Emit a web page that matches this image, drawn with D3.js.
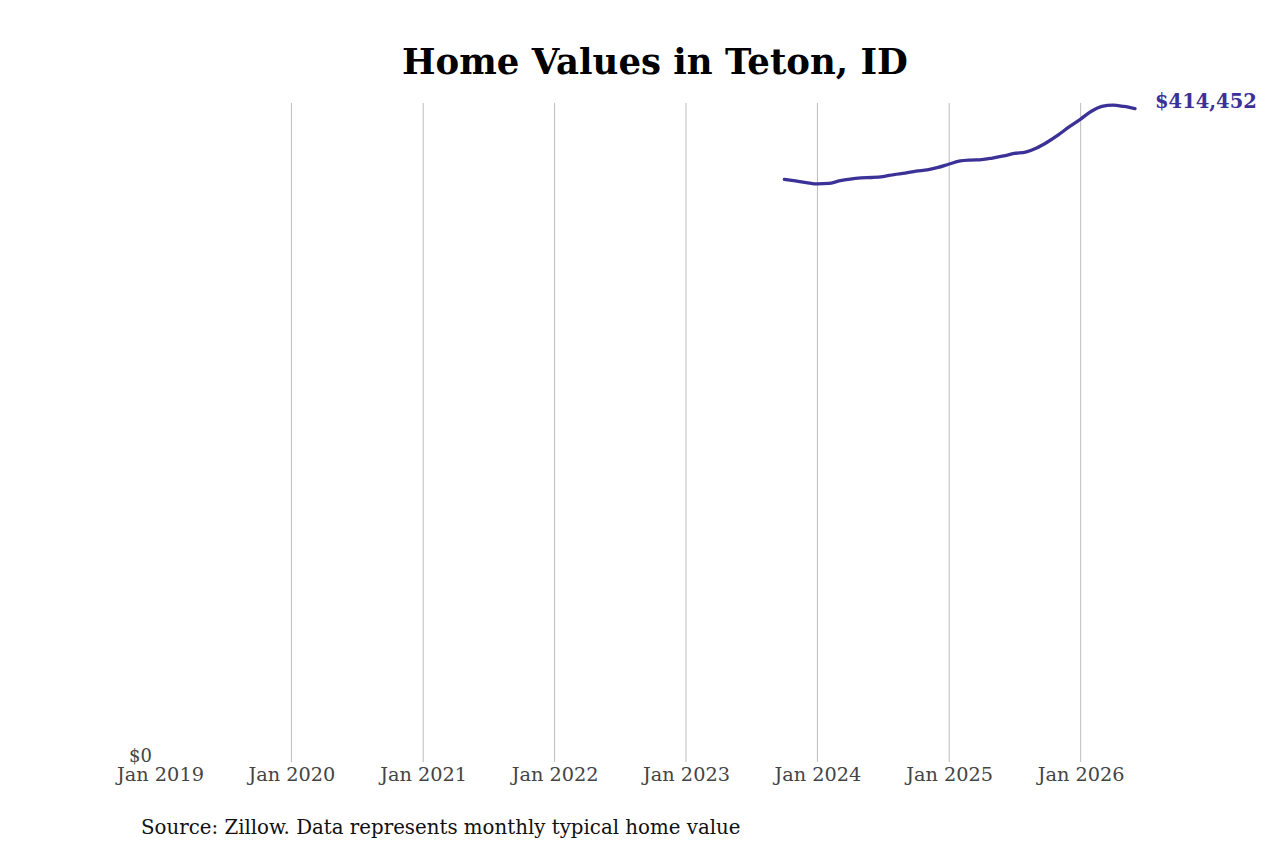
<!DOCTYPE html>
<html lang="en">
<head>
    <meta charset="UTF-8">
    <title>Home Values in Teton, ID</title>
    <script src="https://d3js.org/d3.v7.min.js"></script>
    <style>
        body { margin: 0; background: #fff; }
        text { font-family: "DejaVu Serif", serif; }
    </style>
</head>
<body>
<svg id="chart"></svg>
<script>
    // monthly typical home value, Oct 2023 - Jun 2026
    var months = [
        "2023-10", "2023-11", "2023-12",
        "2024-01", "2024-02", "2024-03", "2024-04", "2024-05", "2024-06",
        "2024-07", "2024-08", "2024-09", "2024-10", "2024-11", "2024-12",
        "2025-01", "2025-02", "2025-03", "2025-04", "2025-05", "2025-06",
        "2025-07", "2025-08", "2025-09", "2025-10", "2025-11", "2025-12",
        "2026-01", "2026-02", "2026-03", "2026-04", "2026-05", "2026-06"
    ];
    var values = [
        369400, 368400, 367400,
        366500, 366800, 368400, 369600, 370300, 370600,
        371200, 372500, 373400, 374700, 375400, 377000,
        379200, 381100, 381700, 382000, 383000, 384300,
        385900, 386800, 389400, 393200, 397900, 403000,
        407800, 412900, 415800, 416700, 415800, 414452
    ];
    var tickYears = [2019, 2020, 2021, 2022, 2023, 2024, 2025, 2026];
    var yTicks = [0];

    var width = 1280, height = 853;
    var parse = d3.timeParse("%Y-%m");

    var svg = d3.select("#chart")
        .attr("width", width)
        .attr("height", height);

    var x = d3.scaleTime()
        .domain([new Date(2019, 0, 1), new Date(2026, 5, 1)])
        .range([160, 1135]);

    var y = d3.scaleLinear()
        .domain([0, 418000])
        .range([760, 103]);

    // title
    svg.append("text")
        .attr("x", 655)
        .attr("y", 74)
        .attr("text-anchor", "middle")
        .attr("font-size", 35.5)
        .attr("font-weight", "bold")
        .attr("fill", "#000")
        .text("Home Values in Teton, ID");

    // vertical gridlines (none on the first tick)
    svg.append("g")
        .selectAll("line")
        .data(tickYears.slice(1))
        .enter()
        .append("line")
        .attr("x1", function(d) { return x(new Date(d, 0, 1)); })
        .attr("x2", function(d) { return x(new Date(d, 0, 1)); })
        .attr("y1", y.range()[1])
        .attr("y2", 762)
        .attr("stroke", "#bdbdbd")
        .attr("stroke-width", 1);

    // x axis labels
    var xAxis = d3.axisBottom(x)
        .tickValues(tickYears.map(function(d) { return new Date(d, 0, 1); }))
        .tickFormat(d3.timeFormat("Jan %Y"))
        .tickSize(0)
        .tickPadding(5);

    var gx = svg.append("g")
        .attr("transform", "translate(0,762)")
        .call(xAxis);
    gx.select(".domain").remove();
    gx.selectAll("text")
        .attr("font-family", "DejaVu Serif, serif")
        .attr("font-size", 19.3)
        .attr("fill", "#444");

    // y axis label ($0 only)
    var yAxis = d3.axisLeft(y)
        .tickValues(yTicks)
        .tickFormat(function(d) { return "$" + d3.format(",")(d); })
        .tickSize(0)
        .tickPadding(0);

    var gy = svg.append("g")
        .attr("transform", "translate(152,-4)")
        .call(yAxis);
    gy.select(".domain").remove();
    gy.selectAll("text")
        .attr("font-family", "DejaVu Serif, serif")
        .attr("font-size", 18)
        .attr("fill", "#444");

    // line
    var line = d3.line()
        .x(function(d, i) { return x(parse(months[i])); })
        .y(function(d) { return y(d); })
        .curve(d3.curveMonotoneX);

    svg.append("path")
        .datum(values)
        .attr("d", line)
        .attr("fill", "none")
        .attr("stroke", "#3b3196")
        .attr("stroke-width", 3.3)
        .attr("stroke-linejoin", "round")
        .attr("stroke-linecap", "round");

    // end label
    var last = values[values.length - 1];
    svg.append("text")
        .attr("x", x(parse(months[months.length - 1])) + 20)
        .attr("y", y(last) - 1)
        .attr("font-size", 19.5)
        .attr("font-weight", "bold")
        .attr("fill", "#3b3196")
        .text("$" + d3.format(",")(last));

    // source note
    svg.append("text")
        .attr("x", 141)
        .attr("y", 834)
        .attr("font-size", 19.8)
        .attr("fill", "#111")
        .text("Source: Zillow. Data represents monthly typical home value");
</script>
</body>
</html>
